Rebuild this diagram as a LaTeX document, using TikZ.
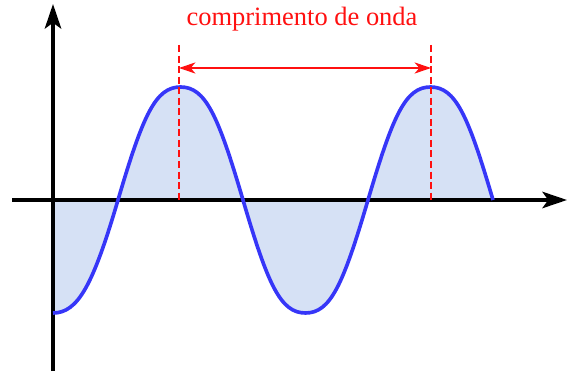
\documentclass[tikz,border=0pt]{standalone}
\usepackage{fontspec}
\setmainfont{Liberation Serif}
\usetikzlibrary{arrows.meta}
\definecolor{wavefill}{HTML}{D6E1F5}
\definecolor{waveblue}{HTML}{3636F8}
\definecolor{lblred}{HTML}{FF1010}
\tikzset{
  axis/.style={line width=3.1pt, -{Stealth[length=21pt,width=14pt,inset=5pt]}},
  wave/.style={line width=3.1pt, waveblue},
  guide/.style={lblred, line width=1.4pt, dash pattern=on 6pt off 3pt},
  span/.style={lblred, line width=1.4pt, {Stealth[length=14pt,width=9.5pt,inset=4pt]}-{Stealth[length=14pt,width=9.5pt,inset=4pt]}}
}
\newcommand{\wavepath}{(53,313) .. controls (78,313) and (93,285) .. (118,200)
  .. controls (143,115) and (155.5,87) .. (180.5,87)
  .. controls (205.5,87) and (218,115) .. (243,200)
  .. controls (268,285) and (280.5,313) .. (305.5,313)
  .. controls (330.5,313) and (343,285) .. (368,200)
  .. controls (393,115) and (405.5,87) .. (430.5,87)
  .. controls (455.5,87) and (468,115) .. (493,200)}
\begin{document}
\begin{tikzpicture}[x=0.03cm,y=-0.03cm]
\useasboundingbox (0,0) rectangle (568,374);
% fill
\fill[wavefill] \wavepath -- (53,200) -- cycle;
% axes
\coordinate (xs) at (12,200);
\coordinate (xe) at (567,200);
\coordinate (ys) at (53,371);
\coordinate (ye) at (53,4);
\draw[axis] (xs) -- (xe);
\draw[axis] (ys) -- (ye);
% wave
\draw[wave] \wavepath;
% guides
\coordinate (g1t) at (179,45);
\coordinate (g1b) at (179,200);
\coordinate (g2t) at (431,45);
\coordinate (g2b) at (431,200);
\draw[guide] (g1t) -- (g1b);
\draw[guide] (g2t) -- (g2b);
\coordinate (a1) at (179,68);
\coordinate (a2) at (431,68);
\draw[span] (a1) -- (a2);
\node[lblred, font=\fontsize{22.6}{27}\selectfont, inner sep=0pt] (lbl) at (302,19) {comprimento de onda};
\end{tikzpicture}
\end{document}
